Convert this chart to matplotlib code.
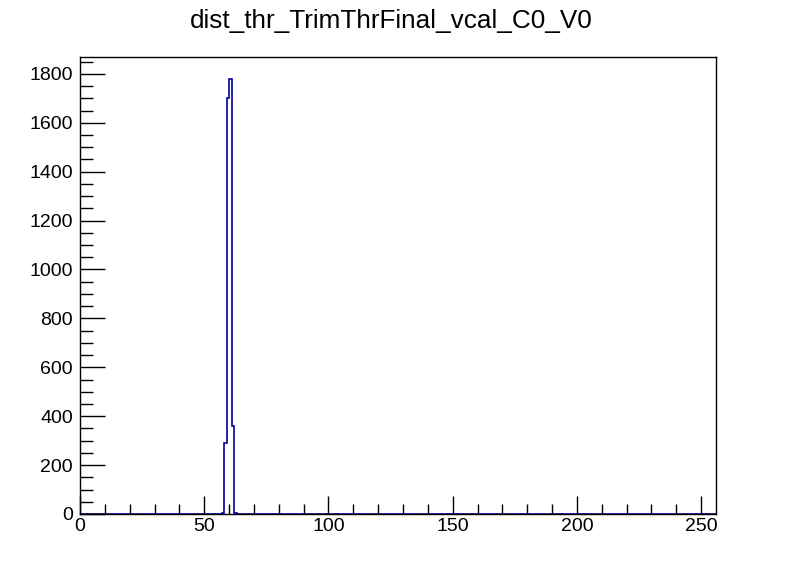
import numpy as np
import matplotlib
matplotlib.use("Agg")
import matplotlib.pyplot as plt
from matplotlib.ticker import MultipleLocator

plt.rcParams['font.family'] = ['Liberation Sans', 'DejaVu Sans']

title = "dist_thr_TrimThrFinal_vcal_C0_V0"
n_bins = 256
x_min, x_max = 0, 256
# non-empty bins
peak_first_bin = 57
peak_counts = [4, 290, 1700, 1780, 360, 3]

counts = np.zeros(n_bins)
counts[peak_first_bin:peak_first_bin + len(peak_counts)] = peak_counts
edges = np.linspace(x_min, x_max, n_bins + 1)

fig = plt.figure(figsize=(7.96, 5.72), dpi=100)
ax = fig.add_axes([80 / 796, 1 - 514 / 572, 636 / 796, 457 / 572])

ax.stairs(counts, edges, color='#0000a0', linewidth=1.2)

ax.set_xlim(x_min, x_max)
ax.set_ylim(0, 1.05 * max(peak_counts))

ax.xaxis.set_major_locator(MultipleLocator(50))
ax.xaxis.set_minor_locator(MultipleLocator(10))
ax.yaxis.set_major_locator(MultipleLocator(200))
ax.yaxis.set_minor_locator(MultipleLocator(50))

ax.tick_params(which='both', direction='in', top=False, right=False, labelsize=14, width=1)
ax.tick_params(axis='x', which='major', length=13, pad=3)
ax.tick_params(axis='x', which='minor', length=7)
ax.tick_params(axis='y', which='major', length=18, pad=5)
ax.tick_params(axis='y', which='minor', length=9)

for sp in ax.spines.values():
    sp.set_linewidth(1)

fig.text(391 / 796, 1 - 21 / 572, title, ha='center', va='center', fontsize=18.8)

fig.savefig("out.png", dpi=100)
